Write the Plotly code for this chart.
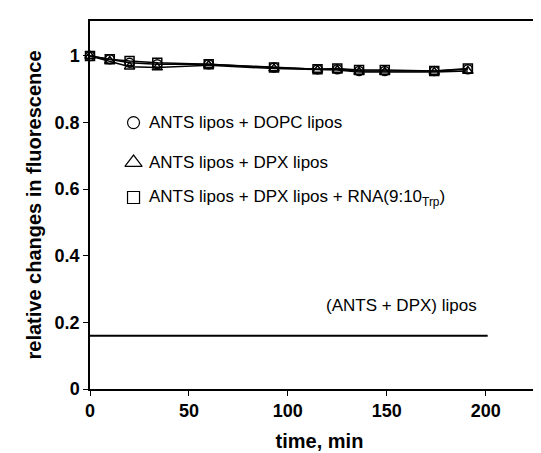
import plotly.graph_objects as go

# ---- data ----
time_min = [0, 10, 20, 34, 60, 93, 115, 125, 136, 149, 174, 191]
dopc = [1.0, 0.99, 0.98, 0.975, 0.975, 0.965, 0.96, 0.96, 0.955, 0.955, 0.955, 0.96]
dpx = [1.0, 0.985, 0.968, 0.965, 0.972, 0.962, 0.958, 0.958, 0.952, 0.952, 0.952, 0.955]
dpx_rna = [1.0, 0.99, 0.985, 0.98, 0.975, 0.965, 0.96, 0.962, 0.958, 0.958, 0.955, 0.962]
ants_dpx_time = [0, 201]
ants_dpx_level = [0.16, 0.16]

series_names = ["ANTS lipos + DOPC lipos", "ANTS lipos + DPX lipos",
                "ANTS lipos + DPX lipos + RNA(9:10<sub>Trp</sub>)"]
series_symbols = ["circle-open", "triangle-up-open", "square-open"]
x_ticks = [0, 50, 100, 150, 200]
y_ticks = [0, 0.2, 0.4, 0.6, 0.8, 1]
y_tick_labels = ["0", "0.2", "0.4", "0.6", "0.8", "1"]
ants_dpx_label = "(ANTS + DPX) lipos"

NARROW = "Liberation Sans Narrow, Arial Narrow, Liberation Sans, Arial"
REG = "Liberation Sans, Arial"

fig = go.Figure()
for ys, sym, name in zip([dopc, dpx, dpx_rna], series_symbols, series_names):
    fig.add_trace(go.Scatter(
        x=time_min, y=ys, mode="lines+markers", name=name,
        line=dict(color="black", width=1.5),
        marker=dict(symbol=sym, size=9, color="black", line=dict(width=1.5)),
        showlegend=False, cliponaxis=False))

fig.add_trace(go.Scatter(x=ants_dpx_time, y=ants_dpx_level, mode="lines",
                         line=dict(color="black", width=2), showlegend=False))

# legend drawn inside plot
leg_x = 22
leg_y = [0.80, 0.68, 0.575]
leg_sizes = [12, 15, 12]
for yy, sym, name, sz in zip(leg_y, series_symbols, series_names, leg_sizes):
    fig.add_trace(go.Scatter(x=[leg_x], y=[yy], mode="markers",
                             marker=dict(symbol=sym, size=sz, color="black",
                                         line=dict(width=1.2)),
                             showlegend=False, hoverinfo="skip"))
    fig.add_annotation(x=leg_x + 7, y=yy, text=name, showarrow=False,
                       xanchor="left", yanchor="middle",
                       font=dict(family=REG, size=17, color="black"))

fig.add_annotation(x=196.5, y=0.25, text=ants_dpx_label, showarrow=False,
                   xanchor="right", yanchor="middle",
                   font=dict(family=REG, size=17, color="black"))

fig.update_layout(
    width=541, height=453,
    margin=dict(l=82, r=0, t=13, b=72),
    plot_bgcolor="white", paper_bgcolor="white",
    font=dict(family=REG, color="black"),
)
fig.update_xaxes(range=[0, 232], tickvals=x_ticks, showline=True, linecolor="black",
                 linewidth=1.5, mirror=True, ticks="outside", ticklen=5,
                 tickcolor="black", showgrid=False, zeroline=False,
                 tickfont=dict(family=NARROW, size=18, color="black", weight="bold"),
                 title=dict(text="time, min", standoff=14,
                            font=dict(family=REG, size=20, color="black", weight="bold")))
fig.update_yaxes(range=[0, 1.105], tickvals=y_ticks, ticktext=y_tick_labels,
                 showline=True, linecolor="black", linewidth=1.5,
                 ticks="outside", ticklen=5, tickcolor="black",
                 showgrid=False, zeroline=False,
                 tickfont=dict(family=NARROW, size=18, color="black", weight="bold"),
                 title=dict(text="relative changes in fluorescence", standoff=8,
                            font=dict(family=REG, size=20, color="black", weight="bold")))

fig.write_html("out.html")
